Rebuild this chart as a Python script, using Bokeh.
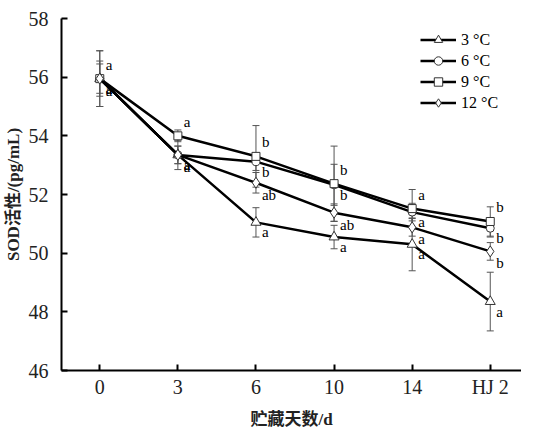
from bokeh.plotting import figure
from bokeh.models import ColumnDataSource, Whisker, TeeHead, FixedTicker, Range1d, Legend
from bokeh.core.properties import value
from bokeh.embed import file_html
from bokeh.resources import INLINE

days = ["0", "3", "6", "10", "14", "HJ 2"]
series_names = ["3 °C", "6 °C", "9 °C", "12 °C"]

t3 = [55.95, 53.35, 51.05, 50.55, 50.30, 48.35]
t6 = [55.95, 53.35, 53.12, 52.33, 51.40, 50.85]
t9 = [55.95, 54.00, 53.30, 52.37, 51.52, 51.08]
t12 = [55.95, 53.35, 52.40, 51.38, 50.88, 50.06]

e3 = [0.95, 0.50, 0.50, 0.40, 0.90, 1.00]
e6 = [0.60, 0.30, 0.30, 0.70, 0.30, 0.30]
e9 = [0.95, 0.20, 1.05, 1.28, 0.65, 0.50]
e12 = [0.50, 0.30, 0.35, 0.30, 0.30, 0.30]

l3 = ["a", "a", "a", "a", "a", "a"]
l6 = ["a", "a", "b", "b", "a", "b"]
l9 = ["a", "a", "b", "b", "a", "b"]
l12 = ["a", "a", "ab", "ab", "a", "b"]

y_ticks = [46, 48, 50, 52, 54, 56, 58]

SERIF = "'Liberation Serif', 'Noto Sans CJK SC'"

p = figure(width=521, height=431, output_backend="svg", toolbar_location=None,
           x_range=Range1d(-0.49, 5.40), y_range=Range1d(46, 58),
           min_border_left=54, min_border_right=0, min_border_top=18, min_border_bottom=50)
p.outline_line_color = None
p.xgrid.visible = False
p.ygrid.visible = False
p.background_fill_color = "white"

xs = list(range(len(days)))
data = [(t3, e3, l3, "triangle", 10, 10),
        (t6, e6, l6, "circle", 8, 10),
        (t9, e9, l9, "square", 8, -14),
        (t12, e12, l12, "diamond", 11, 12)]

# error bars
for vals, errs, labs, mk, sz, off in data:
    src = ColumnDataSource(dict(x=xs, up=[v + e for v, e in zip(vals, errs)],
                                lo=[v - e for v, e in zip(vals, errs)]))
    w = Whisker(source=src, base="x", upper="up", lower="lo", dimension="height",
                line_color="#555555", line_width=1,
                upper_head=TeeHead(size=7, line_color="#555555", line_width=1),
                lower_head=TeeHead(size=7, line_color="#555555", line_width=1))
    p.add_layout(w)

items = []
for (vals, errs, labs, mk, sz, off), name in zip(data, series_names):
    src = ColumnDataSource(dict(x=xs, y=vals, lab=labs))
    r1 = p.line("x", "y", source=src, line_color="black", line_width=2.5)
    r2 = p.scatter("x", "y", source=src, marker=mk, size=sz, line_color="#333333",
                   fill_color="white", line_width=1)
    p.text("x", "y", text="lab", source=src, x_offset=6, y_offset=off,
           text_font=value("Liberation Serif"), text_font_size="15px",
           text_color="black", text_baseline="middle", text_align="left")
    items.append((name, [r1, r2]))

legend = Legend(items=items, location=(359, 257))
legend.background_fill_alpha = 0
legend.border_line_color = None
legend.label_text_font = "Liberation Serif"
legend.label_text_font_size = "16px"
legend.label_text_color = "black"
legend.glyph_width = 36
legend.glyph_height = 21
legend.label_height = 21
legend.spacing = 0
legend.padding = 0
legend.label_standoff = 5
p.add_layout(legend)

# axes
p.xaxis.ticker = FixedTicker(ticks=xs)
p.xaxis.major_label_overrides = {i: d for i, d in zip(xs, days)}
p.yaxis.ticker = FixedTicker(ticks=y_ticks)
for ax in (p.xaxis, p.yaxis):
    ax.axis_line_color = "black"
    ax.axis_line_width = 2
    ax.major_tick_in = 6
    ax.major_tick_out = 0
    ax.major_tick_line_color = "black"
    ax.major_tick_line_width = 2
    ax.minor_tick_line_color = None
    ax.major_label_text_font = "Liberation Serif"
    ax.major_label_text_font_size = "20px"
    ax.major_label_text_color = "#222222"
    ax.axis_label_text_font = SERIF
    ax.axis_label_text_font_style = "bold"
    ax.axis_label_text_font_size = "17px"
    ax.axis_label_text_color = "#222222"
p.xaxis.major_label_standoff = 5
p.yaxis.major_label_standoff = 13
p.xaxis.axis_label = "贮藏天数/d"
p.yaxis.axis_label = "SOD活性/(pg/mL)"
p.xaxis.axis_label_standoff = 9
p.yaxis.axis_label_standoff = 3

open("out.html", "w").write(file_html(p, INLINE))
